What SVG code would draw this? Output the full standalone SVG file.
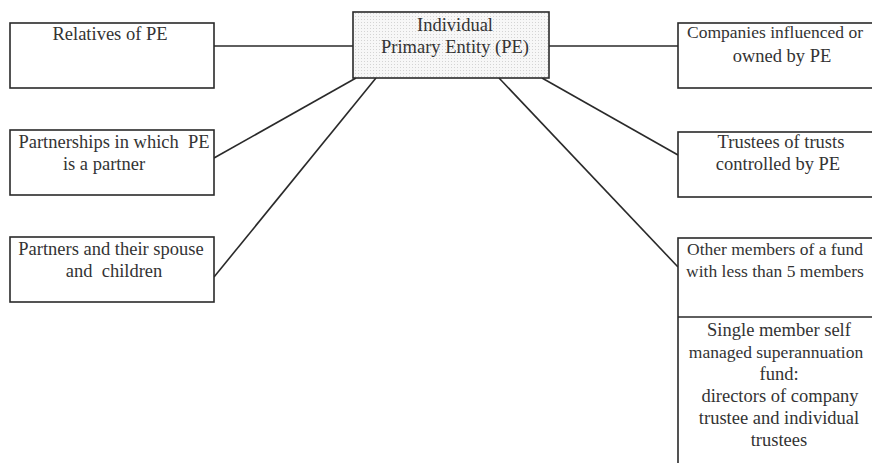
<svg xmlns="http://www.w3.org/2000/svg" width="872" height="463" viewBox="0 0 872 463">
<defs>
<pattern id="dots" width="3" height="3" patternUnits="userSpaceOnUse">
<rect width="3" height="3" fill="#f7f7f7"/>
<rect x="1" y="1" width="1" height="1" fill="#d4d4d4"/>
</pattern>
</defs>
<style>
.box{fill:#fff;stroke:#2a2a2a;stroke-width:1.6}
.ctr{fill:url(#dots);stroke:#2a2a2a;stroke-width:1.6}
.lbl{font-family:"Liberation Serif","Times New Roman",serif;font-size:18.5px;fill:#333;text-anchor:middle}
.sm{font-size:17.5px}
.conn line{stroke:#2a2a2a;stroke-width:1.6}
</style>
<g class="conn" id="connectors">
<line x1="214" y1="46" x2="353" y2="46"/>
<line x1="549" y1="46" x2="678" y2="46"/>
<line x1="214" y1="158" x2="356" y2="78"/>
<line x1="214" y1="277" x2="376" y2="78"/>
<line x1="542" y1="78" x2="678" y2="155"/>
<line x1="499" y1="78" x2="678" y2="267"/>
</g>
<g id="pe">
<rect class="ctr" x="353" y="12" width="196" height="66"/>
<text class="lbl" x="455" y="31">Individual</text>
<text class="lbl" x="455" y="53">Primary Entity (PE)</text>
</g>
<g id="relatives">
<rect class="box" x="10" y="23" width="204" height="65"/>
<text class="lbl" x="110" y="40">Relatives of PE</text>
</g>
<g id="partnerships">
<rect class="box" x="10" y="130" width="204" height="65"/>
<text class="lbl" x="114" y="148" xml:space="preserve">Partnerships in which  PE</text>
<text class="lbl" x="104" y="170">is a partner</text>
</g>
<g id="partners">
<rect class="box" x="10" y="237" width="204" height="65"/>
<text class="lbl" x="111" y="255">Partners and their spouse</text>
<text class="lbl" x="114" y="277" xml:space="preserve">and  children</text>
</g>
<g id="companies">
<rect class="box" x="678" y="23" width="210" height="65"/>
<text class="lbl sm" x="775" y="38">Companies influenced or</text>
<text class="lbl" x="782" y="62">owned by PE</text>
</g>
<g id="trustees">
<rect class="box" x="678" y="132" width="210" height="65"/>
<text class="lbl" x="781" y="148">Trustees of trusts</text>
<text class="lbl" x="778" y="170">controlled by PE</text>
</g>
<g id="fund">
<rect class="box" x="678" y="238" width="210" height="240"/>
<line x1="678" y1="317" x2="888" y2="317" stroke="#2a2a2a" stroke-width="1.6"/>
<text class="lbl sm" x="775" y="255">Other members of a fund</text>
<text class="lbl sm" x="775" y="277">with less than 5 members</text>
<text class="lbl" x="779" y="336">Single member self</text>
<text class="lbl sm" x="776" y="358">managed superannuation</text>
<text class="lbl" x="779" y="380">fund:</text>
<text class="lbl" x="780" y="402">directors of company</text>
<text class="lbl" x="779" y="424">trustee and individual</text>
<text class="lbl" x="779" y="446">trustees</text>
</g>
</svg>
